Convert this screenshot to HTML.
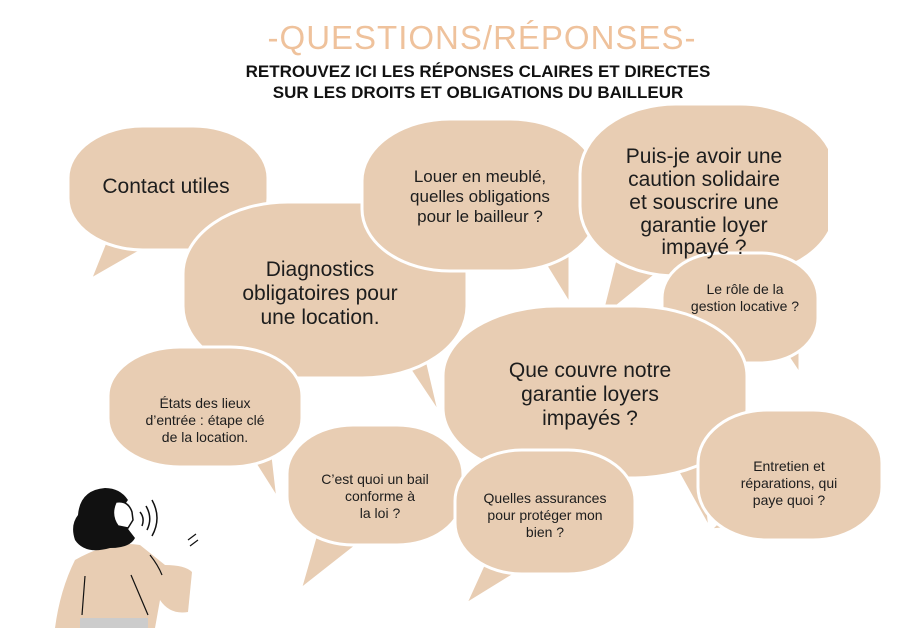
<!DOCTYPE html>
<html><head><meta charset="utf-8"><style>
body{margin:0;background:#fff}
svg{display:block}
text{font-family:"Liberation Sans",sans-serif;fill:#1d1d1d;text-anchor:middle}
</style></head><body>
<svg width="910" height="628" viewBox="0 0 910 628" xmlns="http://www.w3.org/2000/svg">
<text x="482" y="49" style="font-size:33px;fill:#efc29c;letter-spacing:1px">-QUESTIONS/RÉPONSES-</text>
<text x="478" y="77" style="font-size:17px;font-weight:bold;fill:#111">RETROUVEZ ICI LES RÉPONSES CLAIRES ET DIRECTES</text>
<text x="478" y="98" style="font-size:17px;font-weight:bold;fill:#111">SUR LES DROITS ET OBLIGATIONS DU BAILLEUR</text>

<g fill="#e8cdb3" stroke="#fff" stroke-width="3">
<polygon points="110,230 90,280 160,240"/><rect x="68" y="126" width="200" height="124" rx="75" ry="52"/>
<polygon points="390,340 440,415 420,330"/><rect x="183" y="202" width="284" height="176" rx="105" ry="72"/>
<polygon points="530,240 570,305 570,230"/><rect x="362" y="119" width="236" height="152" rx="88" ry="62"/>
<polygon points="620,240 600,320 680,255"/><rect x="580" y="104" width="256" height="172" rx="96" ry="70"/>
<polygon points="770,330 800,375 800,320"/><rect x="662" y="253" width="156" height="110" rx="58" ry="45"/>
<polygon points="660,440 710,530 700,430"/><rect x="443" y="306" width="304" height="172" rx="114" ry="70"/>
<polygon points="240,440 278,500 270,430"/><rect x="108" y="347" width="194" height="120" rx="72" ry="49"/>
<polygon points="320,520 300,590 370,535"/><rect x="287" y="425" width="176" height="120" rx="66" ry="49"/>
<polygon points="740,500 710,530 770,525"/><rect x="698" y="410" width="184" height="130" rx="69" ry="53"/>
<polygon points="490,550 465,605 530,565"/><rect x="455" y="450" width="180" height="124" rx="67" ry="51"/>
</g>
<rect x="828" y="100" width="82" height="160" fill="#fff"/>

<g style="font-size:21px">
<text x="166" y="193">Contact utiles</text>
<text x="320" y="276">Diagnostics</text><text x="320" y="300">obligatoires pour</text><text x="320" y="324">une location.</text>
<text x="704" y="163">Puis-je avoir une</text><text x="704" y="186">caution solidaire</text><text x="704" y="209">et souscrire une</text><text x="704" y="232">garantie loyer</text><text x="704" y="254">impayé ?</text>
<text x="590" y="377">Que couvre notre</text><text x="590" y="401">garantie loyers</text><text x="590" y="425">impayés ?</text>
</g>
<g style="font-size:17px">
<text x="480" y="182">Louer en meublé,</text><text x="480" y="202">quelles obligations</text><text x="480" y="222">pour le bailleur ?</text>
</g>
<g style="font-size:14px">
<text x="745" y="294">Le rôle de la</text><text x="745" y="311">gestion locative ?</text>
<text x="205" y="408">États des lieux</text><text x="205" y="425">d’entrée : étape clé</text><text x="205" y="442">de la location.</text>
<text x="375" y="484">C’est quoi un bail</text><text x="380" y="501">conforme à</text><text x="380" y="518">la loi ?</text>
<text x="545" y="503">Quelles assurances</text><text x="545" y="520">pour protéger mon</text><text x="545" y="537">bien ?</text>
<text x="789" y="471">Entretien et</text><text x="789" y="488">réparations, qui</text><text x="789" y="505">paye quoi ?</text>
</g>

<g>
<path d="M75,560 Q110,540 140,545 L165,565 Q185,565 192,572 L188,612 Q170,615 160,600 L155,628 L55,628 Q60,590 75,560Z" fill="#e8cdb3"/>
<path d="M105,488 Q80,490 78,515 Q70,525 75,540 Q85,555 110,548 Q130,548 135,538 L125,525 Q120,510 128,500 Q120,488 105,488Z" fill="#111"/>
<path d="M116,502 Q128,500 132,512 L133,520 L128,528 L118,526 Q110,515 116,502Z" fill="#fff" stroke="#111" stroke-width="1.5"/>
<path d="M140,512 Q145,518 142,526 M146,506 Q153,518 147,530 M152,500 Q162,518 152,536" fill="none" stroke="#111" stroke-width="1.5"/>
<path d="M188,540 L196,534 M190,546 L198,540" stroke="#111" stroke-width="1.2"/>
<path d="M85,576 L82,615 M131,575 L148,615 M150,555 Q158,565 162,575" stroke="#111" stroke-width="1.2" fill="none"/>
<rect x="80" y="618" width="68" height="10" fill="#ccc"/>
</g>
</svg>
</body></html>
